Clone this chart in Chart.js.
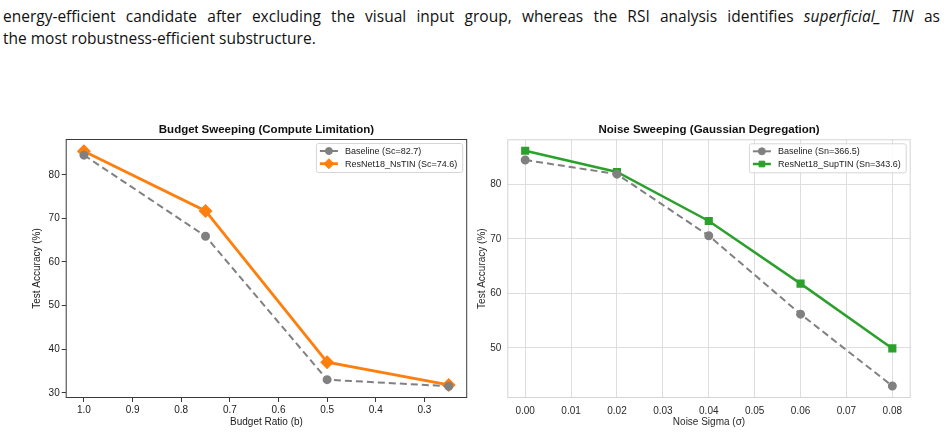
<!DOCTYPE html>
<html>
<head>
<meta charset="utf-8">
<script src="https://cdn.jsdelivr.net/npm/chart.js@4"></script>
<style>
  body { margin: 0; background: #fff; width: 945px; height: 432px; overflow: hidden; position: relative; }
  .caption { position: absolute; left: 3px; width: 937px; font-family: "Open Sans", sans-serif; font-size: 15.5px; color: #111; white-space: nowrap; }
  #cap1 { top: 5px; text-align: justify; text-align-last: justify; white-space: normal; }
  #cap2 { top: 27px; }
  .panel { position: absolute; top: 115px; height: 317px; }
  #leftPanel { left: 0; width: 475px; }
  #rightPanel { left: 470px; width: 475px; }
</style>
</head>
<body>
<div class="caption" id="cap1">energy-efficient candidate after excluding the visual input group, whereas the RSI analysis identifies <i>superficial_ TIN</i> as</div>
<div class="caption" id="cap2">the most robustness-efficient substructure.</div>
<div class="panel" id="leftPanel"><canvas id="budgetChart"></canvas></div>
<div class="panel" id="rightPanel"><canvas id="noiseChart"></canvas></div>
<script>
// budget sweep (left)
const budgetRatio = [1.0, 0.75, 0.5, 0.25];
const budgetBaseline = [84.5, 65.9, 33.0, 31.5];
const budgetNsTIN = [85.4, 71.7, 37.0, 31.8];
const budgetTicks = [1.0, 0.9, 0.8, 0.7, 0.6, 0.5, 0.4, 0.3];
const budgetAccTicks = [30, 40, 50, 60, 70, 80];

// noise sweep (right)
const noiseSigma = [0.00, 0.02, 0.04, 0.06, 0.08];
const noiseBaseline = [84.5, 81.9, 70.6, 56.2, 43.0];
const noiseSupTIN = [86.2, 82.3, 73.3, 61.8, 49.9];
const noiseTicks = [0.00, 0.01, 0.02, 0.03, 0.04, 0.05, 0.06, 0.07, 0.08];
const noiseAccTicks = [50, 60, 70, 80];

const FONT = '"Liberation Sans", Arial, sans-serif';
const GREY = '#808080';
const ORANGE = '#ff7f0e';
const GREEN = '#2ca02c';

const pairs = (xs, ys) => xs.map((x, i) => ({ x: x, y: ys[i] }));
const fixTicks = arr => scale => { scale.ticks = arr.map(v => ({ value: v })); };

// draws subplot title, full frame and a matplotlib-like legend inside the plot
const panelDecor = {
  id: 'panelDecor',
  afterDatasetsDraw(chart, args, opts) {
    const ctx = chart.ctx;
    const a = chart.chartArea;
    ctx.save();
    ctx.strokeStyle = opts.frameColor;
    ctx.lineWidth = 1;
    ctx.strokeRect(a.left + 0.5, a.top + 0.5, a.right - a.left - 1, a.bottom - a.top - 1);

    ctx.fillStyle = '#111';
    ctx.font = 'bold 11.5px ' + FONT;
    ctx.textAlign = 'center';
    ctx.textBaseline = 'middle';
    ctx.fillText(opts.title, (a.left + a.right) / 2, a.top - 9);

    // legend
    ctx.font = '9px ' + FONT;
    const items = chart.data.datasets;
    const textW = Math.max(...items.map(d => ctx.measureText(d.label).width));
    const w = 29 + textW + 5;
    const h = 29;
    const x0 = a.right - 5 - w;
    const y0 = a.top + 4;
    ctx.beginPath();
    ctx.roundRect(x0 + 0.5, y0 + 0.5, w, h, 2);
    ctx.fillStyle = 'rgba(255,255,255,0.85)';
    ctx.fill();
    ctx.strokeStyle = '#d6d6d6';
    ctx.lineWidth = 1;
    ctx.stroke();
    items.forEach((d, i) => {
      const cy = y0 + 8 + i * 12.7;
      ctx.beginPath();
      ctx.strokeStyle = d.borderColor;
      ctx.lineWidth = d.borderWidth;
      ctx.moveTo(x0 + 4, cy);
      ctx.lineTo(x0 + 22, cy);
      ctx.stroke();
      ctx.fillStyle = d.pointBackgroundColor;
      ctx.strokeStyle = d.pointBorderColor;
      ctx.lineWidth = 1;
      Chart.helpers.drawPoint(ctx, {
        pointStyle: d.pointStyle, radius: d.pointRadius, rotation: 0, borderWidth: 1
      }, x0 + 13, cy);
      ctx.fillStyle = '#222';
      ctx.textAlign = 'left';
      ctx.fillText(d.label, x0 + 29, cy + 0.5);
    });
    ctx.restore();
  }
};

function series(label, xs, ys, color, style, radius, width, dashed) {
  return {
    label: label,
    data: pairs(xs, ys),
    borderColor: color,
    backgroundColor: color,
    pointBackgroundColor: color,
    pointBorderColor: color,
    borderWidth: width,
    borderDash: dashed ? [7, 4] : [],
    pointStyle: style,
    pointRadius: radius,
    pointHoverRadius: radius,
    tension: 0
  };
}

new Chart(document.getElementById('budgetChart'), {
  type: 'line',
  data: {
    datasets: [
      series('Baseline (Sc=82.7)', budgetRatio, budgetBaseline, GREY, 'circle', 3.5, 2, true),
      series('ResNet18_NsTIN (Sc=74.6)', budgetRatio, budgetNsTIN, ORANGE, 'rectRot', 5, 2.8, false)
    ]
  },
  plugins: [panelDecor],
  options: {
    responsive: true,
    maintainAspectRatio: false,
    animation: false,
    events: [],
    layout: { padding: { top: 24, right: 6, left: 0, bottom: 0 } },
    plugins: {
      legend: { display: false },
      tooltip: { enabled: false },
      panelDecor: { title: 'Budget Sweeping (Compute Limitation)', frameColor: '#3a3a3a' }
    },
    scales: {
      x: {
        type: 'linear',
        reverse: true,
        min: 0.212,
        max: 1.0375,
        afterBuildTicks: fixTicks(budgetTicks),
        afterFit: s => { s.height = 34; },
        grid: { display: true, drawOnChartArea: false, drawTicks: true, tickLength: 4, color: '#3a3a3a', tickColor: '#3a3a3a' },
        border: { display: false },
        ticks: { color: '#1a1a1a', font: { family: FONT, size: 10 }, padding: 2, maxRotation: 0, callback: v => v.toFixed(1) },
        title: { display: true, text: 'Budget Ratio (b)', color: '#1a1a1a', font: { family: FONT, size: 10 }, padding: { top: 0, bottom: 4 } }
      },
      y: {
        min: 28.8,
        max: 88.2,
        afterBuildTicks: fixTicks(budgetAccTicks),
        afterFit: s => { s.width = 65.7; },
        grid: { display: true, drawOnChartArea: false, drawTicks: true, tickLength: 4, color: '#3a3a3a', tickColor: '#3a3a3a' },
        border: { display: false },
        ticks: { color: '#1a1a1a', font: { family: FONT, size: 10 }, padding: 2 },
        title: { display: true, text: 'Test Accuracy (%)', color: '#1a1a1a', font: { family: FONT, size: 10 }, padding: { top: 31, bottom: 0 } }
      }
    }
  }
});

new Chart(document.getElementById('noiseChart'), {
  type: 'line',
  data: {
    datasets: [
      series('Baseline (Sn=366.5)', noiseSigma, noiseBaseline, GREY, 'circle', 3.5, 2, true),
      series('ResNet18_SupTIN (Sn=343.6)', noiseSigma, noiseSupTIN, GREEN, 'rect', 4, 2.5, false)
    ]
  },
  plugins: [panelDecor],
  options: {
    responsive: true,
    maintainAspectRatio: false,
    animation: false,
    events: [],
    layout: { padding: { top: 24.3, right: 34.3, left: 0, bottom: 0 } },
    plugins: {
      legend: { display: false },
      tooltip: { enabled: false },
      panelDecor: { title: 'Noise Sweeping (Gaussian Degregation)', frameColor: '#d4d4d4' }
    },
    scales: {
      x: {
        type: 'linear',
        min: -0.0039,
        max: 0.084,
        afterBuildTicks: fixTicks(noiseTicks),
        afterFit: s => { s.height = 34; },
        grid: { display: true, drawTicks: false, color: '#dedede', lineWidth: 1 },
        border: { display: false },
        ticks: { color: '#2a2a2a', font: { family: FONT, size: 10 }, padding: 7, maxRotation: 0, callback: v => v.toFixed(2) },
        title: { display: true, text: 'Noise Sigma (σ)', color: '#2a2a2a', font: { family: FONT, size: 10 }, padding: { top: 0, bottom: 4 } }
      },
      y: {
        min: 40.8,
        max: 88.3,
        afterBuildTicks: fixTicks(noiseAccTicks),
        afterFit: s => { s.width = 37.3; },
        grid: { display: true, drawTicks: false, color: '#dedede', lineWidth: 1 },
        border: { display: false },
        ticks: { color: '#2a2a2a', font: { family: FONT, size: 10 }, padding: 6 },
        title: { display: true, text: 'Test Accuracy (%)', color: '#2a2a2a', font: { family: FONT, size: 10 }, padding: { top: 6, bottom: 0 } }
      }
    }
  }
});
</script>
</body>
</html>
